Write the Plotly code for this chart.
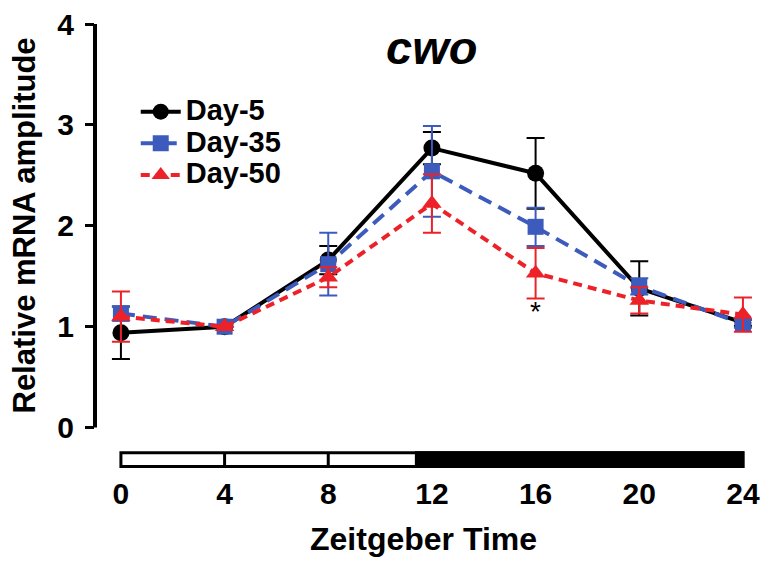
import plotly.graph_objects as go

# ---- data ----
zt = [0, 4, 8, 12, 16, 20, 24]
tick_labels = ["0", "4", "8", "12", "16", "20", "24"]

day5 = [0.94, 1.00, 1.66, 2.77, 2.52, 1.38, 1.04]
day5_err = [0.26, 0.0, 0.14, 0.16, 0.35, 0.27, 0.03]

day35 = [1.13, 1.00, 1.62, 2.54, 1.99, 1.40, 1.03]
day35_err = [0.07, 0.0, 0.31, 0.45, 0.19, 0.08, 0.04]

day50 = [1.10, 1.00, 1.49, 2.22, 1.53, 1.26, 1.12]
day50_err = [0.25, 0.0, 0.10, 0.29, 0.25, 0.13, 0.17]

series_names = ["Day-5", "Day-35", "Day-50"]
y_ticks = [0, 1, 2, 3, 4]

light_start, light_end, dark_end = 0, 11.4, 24
bar_ticks = [4, 8]
star_x, star_y = 16, 1.15

FONT = "Arial, Liberation Sans, Helvetica, sans-serif"
BLACK = "#000000"
BLUE = "#3d5bbd"
RED = "#ec2228"

fig = go.Figure()

styles = [
    (day5, day5_err, BLACK, "solid", "circle", 17),
    (day35, day35_err, BLUE, "14px,8px", "square", 16),
    (day50, day50_err, RED, "9px,6px", "triangle-up", 17),
]
for name, (vals, errs, col, dash, sym, msize) in zip(series_names, styles):
    fig.add_trace(go.Scatter(
        x=zt, y=vals, name='<span style="font-size:29px">%s</span>' % name,
        mode="lines+markers",
        line=dict(color=col, width=4, dash=dash),
        marker=dict(symbol=sym, size=msize, color=col),
        error_y=dict(type="data", array=errs, visible=True,
                     color=col, thickness=2, width=9),
    ))

# light/dark bar
bar_y0, bar_y1 = -0.385, -0.25
fig.add_shape(type="rect", xref="x", yref="y", x0=light_start, x1=dark_end,
              y0=bar_y0, y1=bar_y1, fillcolor="white",
              line=dict(color="black", width=3), layer="above")
fig.add_shape(type="rect", xref="x", yref="y", x0=light_end, x1=dark_end,
              y0=bar_y0, y1=bar_y1, fillcolor="black",
              line=dict(color="black", width=3), layer="above")
for bt in bar_ticks:
    fig.add_shape(type="line", xref="x", yref="y", x0=bt, x1=bt,
                  y0=bar_y0, y1=bar_y1, line=dict(color="black", width=3),
                  layer="above")

# y axis line (0..4 only)
fig.add_shape(type="line", xref="paper", yref="y", x0=0, x1=0,
              y0=y_ticks[0], y1=y_ticks[-1],
              line=dict(color="black", width=4), layer="above")

fig.add_annotation(x=star_x, y=star_y, xref="x", yref="y", text="*",
                   showarrow=False, font=dict(family=FONT, size=28, color="black"))
fig.add_annotation(x=12, y=3.77, xref="x", yref="y", text="<b><i>cwo</i></b>",
                   showarrow=False, font=dict(family=FONT, size=47, color="black"))
fig.add_annotation(x=-0.107, y=2.0, xref="paper", yref="y",
                   xanchor="center", yanchor="middle",
                   text="<b>Relative mRNA amplitude</b>", textangle=-90,
                   showarrow=False, font=dict(family=FONT, size=31, color="black"))

# page has an 8px body margin: figure is sized/offset to compensate
fig.update_layout(
    width=766, height=564,
    margin=dict(l=87, r=22, t=16, b=102, autoexpand=False),
    paper_bgcolor="white", plot_bgcolor="white",
    showlegend=True,
    legend=dict(x=0.062, y=0.85, xanchor="left", yanchor="top",
                font=dict(family=FONT, size=22, color="black", weight="bold"),
                bgcolor="rgba(0,0,0,0)", itemwidth=40, tracegroupgap=0),
    xaxis=dict(range=[-1.0, 24.35], tickvals=zt, ticktext=tick_labels,
               automargin=False,
               showline=False, showgrid=False, zeroline=False, ticks="",
               ticklabelstandoff=3,
               tickfont=dict(family=FONT, size=30, color="black", weight="bold"),
               title=dict(text="<b>Zeitgeber Time</b>", standoff=18,
                          font=dict(family=FONT, size=32, color="black"))),
    yaxis=dict(range=[-0.42, 4.0], tickvals=y_ticks, automargin=False,
               showline=False, showgrid=False, zeroline=False,
               ticks="outside", ticklen=9, tickwidth=3, tickcolor="black",
               ticklabelstandoff=5, ticklabeloverflow="allow",
               tickfont=dict(family=FONT, size=30, color="black", weight="bold")),
)

fig.write_html("out.html")
